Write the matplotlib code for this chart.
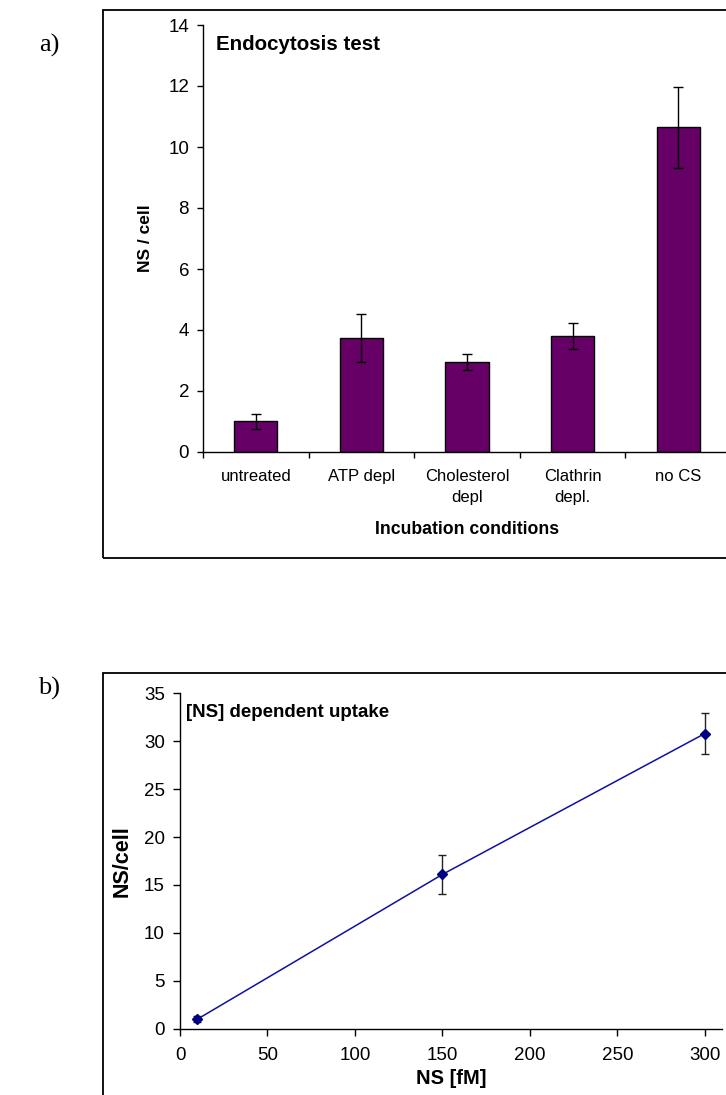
import matplotlib
matplotlib.use("Agg")
import matplotlib.pyplot as plt
from matplotlib.patches import Rectangle

plt.rcParams['font.family'] = ['Liberation Sans', 'DejaVu Sans']

# ---- Data panel a ----
categories = ["untreated", "ATP depl", "Cholesterol\ndepl", "Clathrin\ndepl.", "no CS"]
ns_per_cell = [1.0, 3.75, 2.95, 3.8, 10.65]
ns_err = [0.23, 0.79, 0.26, 0.43, 1.33]
a_yticks = [0, 2, 4, 6, 8, 10, 12, 14]

# ---- Data panel b ----
ns_conc = [10, 150, 300]
uptake = [1.0, 16.1, 30.8]
uptake_err = [0.3, 2.0, 2.15]
b_xticks = [0, 50, 100, 150, 200, 250, 300]
b_yticks = [0, 5, 10, 15, 20, 25, 30, 35]

W, H = 726, 1095
fig = plt.figure(figsize=(W / 100, H / 100), dpi=100)

def fx(px):
    return px / W

def fy(py):
    return 1 - py / H

# Frames around each chart
fig.patches.append(Rectangle((fx(103), fy(558)), 1.0, fy(10) - fy(558),
                             transform=fig.transFigure, fill=False,
                             edgecolor='black', linewidth=1.3))
fig.patches.append(Rectangle((fx(103), -0.1), 1.0, fy(673.3) + 0.1,
                             transform=fig.transFigure, fill=False,
                             edgecolor='black', linewidth=1.3))

# Panel labels
fig.text(fx(49), fy(45), "a)", family=['Liberation Serif'], fontsize=19,
         ha='center', va='center')
fig.text(fx(49), fy(688), "b)", family=['Liberation Serif'], fontsize=19,
         ha='center', va='center')

# ---------- Panel a ----------
axa = fig.add_axes([fx(203), fy(452), fx(731) - fx(203), fy(25) - fy(452)])
pos = list(range(len(categories)))
axa.bar(pos, ns_per_cell, width=0.41, color='#660066', edgecolor='black',
        linewidth=1.0, zorder=2)
axa.errorbar(pos, ns_per_cell, yerr=ns_err, fmt='none', ecolor='black',
             elinewidth=1.0, capsize=3.6, capthick=1.0, zorder=3)
axa.set_xlim(-0.5, len(categories) - 0.5)
axa.set_ylim(0, 14)
axa.set_yticks(a_yticks)
axa.set_xticks([p - 0.5 for p in pos] + [len(categories) - 0.5])
axa.set_xticklabels([])
axa.set_xticks(pos, minor=True)
axa.set_xticklabels(categories, minor=True, fontsize=12, linespacing=1.55)
axa.tick_params(axis='x', which='minor', length=0, pad=12)
axa.tick_params(axis='x', which='major', length=4.5, width=1, direction='out')
axa.tick_params(axis='y', length=4, width=1, direction='out', pad=6,
                labelsize=13.5)
for s in ['top', 'right']:
    axa.spines[s].set_visible(False)
for s in ['left', 'bottom']:
    axa.spines[s].set_linewidth(1.0)
axa.set_ylabel("NS / cell", fontsize=12.5, fontweight='bold', va='center')
axa.yaxis.set_label_coords((145 - 203) / 528, 0.5)
axa.set_xlabel("Incubation conditions", fontsize=12.7, fontweight='bold',
               va='center')
axa.xaxis.set_label_coords(0.5, (452 - 530) / 427)
axa.text((216 - 203) / 528, (452 - 45) / 427, "Endocytosis test",
         transform=axa.transAxes, fontsize=14.8, fontweight='bold',
         ha='left', va='center')

# ---------- Panel b ----------
x0b, x300b = 180, 704.8
pxu = (x300b - x0b) / 300
axb = fig.add_axes([fx(x0b), fy(1028.7), (310 * pxu) / W, fy(693.3) - fy(1028.7)])
axb.errorbar(ns_conc, uptake, yerr=uptake_err, fmt='none', ecolor='#222222',
             elinewidth=1.0, capsize=3.0, capthick=1.0, zorder=2)
axb.plot(ns_conc, uptake, color='#1010a0', linewidth=1.1, marker='D',
         markersize=5, markerfacecolor='#000080', markeredgecolor='#000080',
         zorder=3)
axb.set_xlim(0, 310)
axb.set_ylim(0, 35)
axb.set_xticks(b_xticks)
axb.set_yticks(b_yticks)
axb.tick_params(axis='x', length=5, width=1, direction='out', pad=8,
                labelsize=13.5)
axb.tick_params(axis='y', length=5, width=1, direction='out', pad=6,
                labelsize=13.5)
for s in ['top', 'right']:
    axb.spines[s].set_visible(False)
for s in ['left', 'bottom']:
    axb.spines[s].set_linewidth(1.0)
axb.set_ylabel("NS/cell", fontsize=15.5, fontweight='bold', va='center')
axb.yaxis.set_label_coords((122.5 - x0b) / (310 * pxu), 0.5)
axb.set_xlabel("NS [fM]", fontsize=14.5, fontweight='bold', va='center')
axb.xaxis.set_label_coords((451 - x0b) / (310 * pxu), (1028.7 - 1078) / 335.4)
axb.text((186 - x0b) / (310 * pxu), (1028.7 - 712.5) / 335.4,
         "[NS] dependent uptake", transform=axb.transAxes, fontsize=13.5,
         fontweight='bold', ha='left', va='center')

fig.savefig("out.png", dpi=100)
